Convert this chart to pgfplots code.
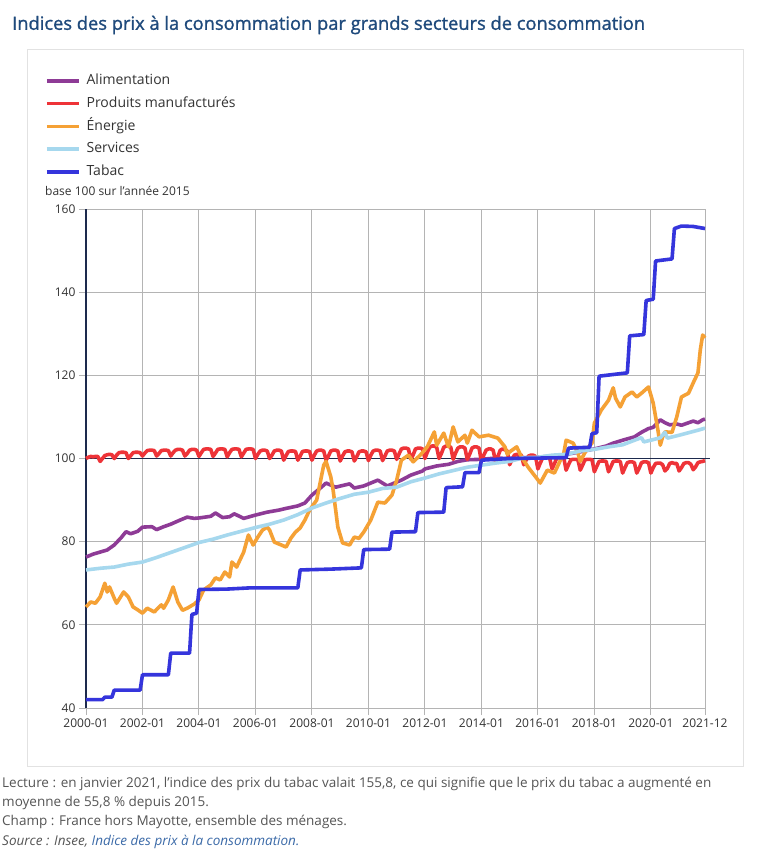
\documentclass[border=0pt]{standalone}
\usepackage{pgfplots}
\pgfplotsset{compat=1.18}
\usepackage{fontspec}
\setmainfont{Open Sans}
\newfontfamily\titlefont{Open Sans}[FakeBold=1.2]
\definecolor{alim}{HTML}{8E3B96}
\definecolor{manuf}{HTML}{EE3338}
\definecolor{energ}{HTML}{F5A135}
\definecolor{serv}{HTML}{A6D8EE}
\definecolor{tabac}{HTML}{3535DC}
\definecolor{navy}{HTML}{1D2A4D}
\definecolor{titleblue}{HTML}{1F4A7C}
\definecolor{gridgray}{HTML}{B4B4B4}
\definecolor{boxgray}{HTML}{E2E2E2}
\definecolor{txt}{HTML}{333333}
\definecolor{note}{HTML}{555555}
\definecolor{link}{HTML}{3B6AA8}
\begin{document}
\begin{tikzpicture}
\useasboundingbox (0,0) rectangle (768pt,-851pt);
\fill[white] (0,0) rectangle (768pt,-851pt);
\draw[boxgray, line width=1pt] (27pt,-50pt) rectangle (743pt,-766pt);
\node[anchor=west, inner sep=0pt, text=titleblue, font=\titlefont\fontsize{18.3}{21}\selectfont] at (12pt,-25pt) {Indices des prix à la consommation par grands secteurs de consommation};
\begin{axis}[
  at={(86pt,-708pt)}, anchor=south west,
  width=619pt, height=499pt, scale only axis,
  xmin=0, xmax=263, ymin=40, ymax=160,
  clip=false,
  axis x line*=bottom, axis y line*=left,
  x axis line style={draw=none},
  y axis line style={draw=navy, line width=1.2pt},
  xtick={0,24,48,72,96,120,144,168,192,216,240,263},
  xticklabels={2000-01,2002-01,2004-01,2006-01,2008-01,2010-01,2012-01,2014-01,2016-01,2018-01,2020-01,2021-12},
  ytick={40,60,80,100,120,140,160},
  /pgf/number format/assume math mode=true,
  tick align=outside, major tick length=7pt,
  tick style={gridgray, line width=1pt},
  grid=major, major grid style={gridgray, line width=1pt},
  xticklabel style={font=\fontsize{12}{14}\selectfont, text=txt},
  yticklabel style={font=\fontsize{12}{14}\selectfont, text=txt},
  legend style={at={(-0.0662,1.2705)}, anchor=north west, draw=none, fill=none,
    inner sep=0pt, outer sep=0pt, row sep=9.3pt,
    nodes={inner sep=0pt, text height=10.5pt, text depth=3pt},
    font=\fontsize{14}{16}\selectfont, text=txt,
    /tikz/every odd column/.append style={column sep=6pt}},
  legend cell align=left,
  legend image code/.code={\draw[#1] (0pt,0pt) -- (32pt,0pt);},
  every axis plot/.append style={line width=3.6pt, line join=round},
]
\addplot[navy, line width=1.3pt, forget plot] coordinates {(0,100) (265,100)};
% Alimentation
\addplot[alim] coordinates {
(0,76.3) (3,77.0) (6,77.5) (9,78.0) (12,79.2) (15,81.0) (17,82.4) (19,81.9) (22,82.5)
(24,83.5) (28,83.6) (30,82.9) (33,83.6) (36,84.2) (40,85.2) (43,85.9) (46,85.6)
(48,85.7) (53,86.1) (55,86.9) (58,85.8) (61,86.0) (63,86.7) (67,85.6) (72,86.4)
(77,87.1) (82,87.6) (85,88.0) (90,88.6) (93,89.3) (96,91.2) (100,93.1) (102,94.1)
(106,93.1) (109,93.5) (112,93.9) (114,92.9) (118,93.4) (124,94.8) (128,93.4)
(134,94.8) (138,96.0) (143,97.0) (144,97.5) (149,98.2) (154,98.6) (158,99.3)
(162,99.7) (168,99.8) (174,100.1) (180,100.0) (186,100.2) (192,100.3) (198,100.6)
(204,101.0) (210,101.6) (216,102.3) (221,103.0) (224,103.7) (228,104.4) (233,105.2)
(236,106.3) (239,107.2) (241,107.5) (244,109.3) (246,108.6) (248,108.1) (251,108.3)
(253,108.0) (256,108.6) (258,109.0) (260,108.6) (262,109.3) (263,109.5)};
\addlegendentry{Alimentation}
% Produits manufactures
\addplot[manuf] coordinates {
(0,100.0) (1,100.3) (2,100.5) (3,100.4) (4,100.5) (5,100.5) (6,99.3) (7,100.0) (8,100.7) (9,100.9) (10,101.0) (11,100.9)
(12,100.0) (13,100.8) (14,101.4) (15,101.5) (16,101.5) (17,101.4) (18,100.0) (19,100.7) (20,101.4) (21,101.5) (22,101.5) (23,101.4)
(24,100.6) (25,101.3) (26,101.9) (27,102.0) (28,102.0) (29,101.9) (30,100.6) (31,101.2) (32,101.9) (33,102.0) (34,102.0) (35,101.9)
(36,100.6) (37,101.4) (38,102.0) (39,102.2) (40,102.2) (41,102.0) (42,100.6) (43,101.2) (44,102.0) (45,102.2) (46,102.2) (47,102.0)
(48,100.5) (49,101.4) (50,102.2) (51,102.3) (52,102.3) (53,102.2) (54,100.5) (55,101.3) (56,102.2) (57,102.3) (58,102.3) (59,102.2)
(60,100.4) (61,101.4) (62,102.2) (63,102.3) (64,102.3) (65,102.2) (66,100.4) (67,101.3) (68,102.2) (69,102.3) (70,102.3) (71,102.2)
(72,100.0) (73,101.0) (74,101.8) (75,102.0) (76,102.0) (77,101.8) (78,100.0) (79,100.8) (80,101.8) (81,102.0) (82,102.0) (83,101.8)
(84,99.6) (85,100.7) (86,101.7) (87,101.8) (88,101.8) (89,101.7) (90,99.6) (91,100.6) (92,101.7) (93,101.8) (94,101.8) (95,101.7)
(96,99.6) (97,100.8) (98,101.8) (99,102.0) (100,102.0) (101,101.8) (102,99.6) (103,100.6) (104,101.8) (105,102.0) (106,102.0) (107,101.8)
(108,99.4) (109,100.6) (110,101.6) (111,101.8) (112,101.8) (113,101.6) (114,99.4) (115,100.4) (116,101.6) (117,101.8) (118,101.8) (119,101.6)
(120,99.5) (121,100.8) (122,101.8) (123,102.0) (124,102.0) (125,101.8) (126,99.5) (127,100.6) (128,101.8) (129,102.0) (130,102.0) (131,101.8)
(132,99.8) (133,101.1) (134,102.3) (135,102.5) (136,102.5) (137,102.3) (138,99.8) (139,100.9) (140,102.3) (141,102.5) (142,102.5) (143,102.3)
(144,100.0) (145,101.5) (146,102.7) (147,103.0) (148,103.0) (149,102.7) (150,100.0) (151,101.2) (152,102.7) (153,103.0) (154,103.0) (155,102.7)
(156,99.8) (157,101.3) (158,102.5) (159,102.8) (160,102.8) (161,102.5) (162,99.8) (163,101.0) (164,102.5) (165,102.8) (166,102.8) (167,102.5)
(168,99.3) (169,100.8) (170,102.0) (171,102.3) (172,102.3) (173,102.0) (174,99.3) (175,100.5) (176,102.0) (177,102.3) (178,102.1) (179,101.8)
(180,98.5) (181,99.8) (182,100.8) (183,101.0) (184,101.0) (185,100.8) (186,98.5) (187,99.6) (188,100.6) (189,100.8) (190,100.8) (191,100.5)
(192,97.5) (193,98.9) (194,100.1) (195,100.3) (196,100.3) (197,100.1) (198,97.5) (199,98.7) (200,100.1) (201,100.3) (202,100.3) (203,100.1)
(204,97.2) (205,98.5) (206,99.7) (207,99.8) (208,99.8) (209,99.7) (210,97.2) (211,98.4) (212,99.7) (213,99.8) (214,99.8) (215,99.7)
(216,96.8) (217,98.1) (218,99.3) (219,99.4) (220,99.4) (221,99.3) (222,96.8) (223,98.0) (224,99.3) (225,99.4) (226,99.4) (227,99.3)
(228,96.5) (229,97.8) (230,99.0) (231,99.2) (232,99.2) (233,99.0) (234,96.5) (235,97.6) (236,99.0) (237,99.2) (238,99.2) (239,99.0)
(240,96.5) (241,97.8) (242,98.8) (243,98.9) (244,98.9) (245,98.5) (246,97.0) (247,97.6) (248,98.8) (249,99.0) (250,98.8) (251,98.8)
(252,97.0) (253,97.8) (254,98.8) (255,99.0) (256,99.0) (257,98.6) (258,97.3) (259,98.0) (260,99.0) (261,99.2) (262,99.3) (263,99.5)};
\addlegendentry{Produits manufacturés}
% Energie
\addplot[energ] coordinates {
(0,64.3) (2,65.5) (4,65.2) (6,66.7) (8,70.0) (9,67.9) (10,69.1) (12,66.4) (13,65.2) (16,67.9) (18,66.7)
(20,64.3) (22,63.6) (24,62.8) (26,64.0) (29,63.1) (32,64.8) (33,64.0) (35,66.0) (37,69.1) (39,65.5)
(41,63.5) (43,64.0) (46,65.0) (48,66.0) (50,68.4) (53,69.6) (55,71.3) (57,70.8) (59,72.7) (61,71.5)
(62,75.1) (64,73.9) (67,77.5) (69,81.6) (71,79.2) (73,81.1) (75,82.8) (77,83.5) (78,82.8) (80,79.9)
(83,79.2) (85,78.7) (87,80.8) (89,82.3) (91,83.3) (93,85.2) (95,87.6) (98,90.0) (101,98.4) (102,99.3)
(104,95.6) (105,92.4) (107,83.5) (109,79.7) (112,79.2) (114,81.1) (116,80.8) (118,82.3) (121,85.2)
(124,89.5) (127,89.3) (130,91.2) (132,94.8) (134,99.6) (137,100.8) (139,99.2) (142,100.8) (145,102.8)
(148,106.4) (149,103.2) (152,106.1) (154,102.8) (156,107.6) (158,104.0) (161,105.6) (162,103.7)
(164,106.8) (167,105.2) (171,105.6) (175,104.9) (178,102.8) (179,101.0) (180,101.6) (183,102.8)
(185,100.4) (188,97.8) (191,95.6) (193,94.1) (196,97.2) (199,96.5) (203,101.3) (204,104.4) (207,103.7)
(209,101.3) (210,99.3) (213,102.5) (215,103.7) (216,108.5) (219,111.7) (222,114.0) (224,117.0)
(225,114.5) (227,112.4) (229,114.8) (232,116.0) (234,114.8) (236,115.7) (239,117.2) (241,113.3)
(243,106.8) (244,103.2) (245,105.2) (246,106.4) (249,106.3) (251,110.0) (253,114.8) (256,115.7)
(258,118.2) (260,120.6) (261,126.1) (262,129.7) (263,129.0)};
\addlegendentry{Énergie}
% Services
\addplot[serv] coordinates {
(0,73.2) (6,73.6) (12,73.9) (18,74.6) (24,75.1) (30,76.2) (36,77.4) (42,78.6) (48,79.8) (54,80.6)
(60,81.6) (66,82.5) (72,83.4) (78,84.2) (84,85.2) (90,86.5) (96,88.1) (102,89.3) (108,90.4) (114,91.4)
(120,91.9) (126,92.8) (132,93.1) (138,94.4) (144,95.3) (150,96.3) (156,97.1) (162,97.9) (168,98.4)
(174,98.9) (180,99.3) (186,100.2) (192,100.3) (198,100.8) (204,101.0) (210,101.8) (216,102.2)
(222,102.8) (228,103.3) (234,104.6) (236,105.0) (237,104.0) (240,104.4) (244,105.0) (246,106.3)
(247,104.9) (252,105.6) (256,106.2) (260,106.8) (263,107.3)};
\addlegendentry{Services}
% Tabac
\addplot[tabac] coordinates {
(0,42.0) (7,42.0) (8,42.6) (11,42.6) (12,44.3) (23,44.3) (24,48.0) (35,48.0) (36,53.2) (44,53.2)
(45,62.5) (47,62.8) (48,68.5) (60,68.6) (70,68.9) (90,68.9) (91,73.2) (104,73.4) (117,73.7)
(118,78.1) (129,78.2) (130,82.3) (140,82.4) (141,87.0) (152,87.1) (153,93.0) (160,93.2) (161,96.6)
(167,96.6) (168,99.6) (180,100.0) (192,100.1) (204,100.2) (205,102.5) (214,102.7) (215,106.0)
(217,106.2) (218,119.8) (230,120.6) (231,129.5) (237,129.8) (238,138.0) (241,138.3) (242,147.5)
(249,148.0) (250,155.3) (253,155.9) (258,155.8) (263,155.3)};
\addlegendentry{Tabac}
\end{axis}
\node[anchor=west, inner sep=0pt, text=txt, font=\fontsize{12}{14}\selectfont] at (45pt,-191pt) {base 100 sur l'année 2015};
\begin{scope}[every node/.style={anchor=west, inner sep=0pt, text=note, font=\fontsize{13.5}{16}\selectfont}]
\node at (2pt,-784pt) {Lecture : en janvier 2021, l’indice des prix du tabac valait 155,8, ce qui signifie que le prix du tabac a augmenté en};
\node at (2pt,-803pt) {moyenne de 55,8 \% depuis 2015.};
\node at (2pt,-822pt) {Champ : France hors Mayotte, ensemble des ménages.};
\node at (2pt,-842pt) {\itshape Source : Insee, \textcolor{link}{Indice des prix à la consommation.}};
\end{scope}
\end{tikzpicture}
\end{document}
